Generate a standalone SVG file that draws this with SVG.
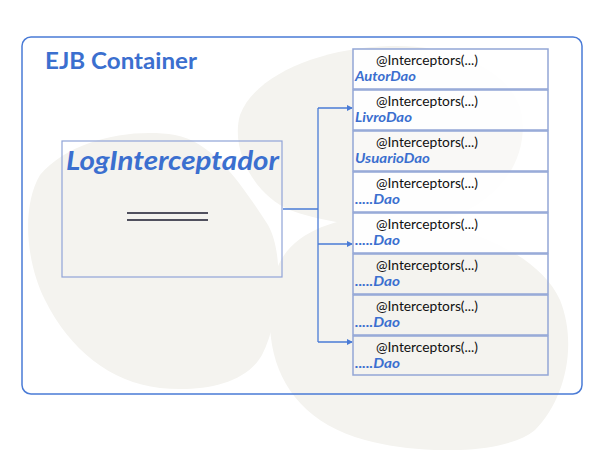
<svg xmlns="http://www.w3.org/2000/svg" width="600" height="450" viewBox="0 0 600 450">
<style>
.blob{fill:#f4f3ef;stroke:none}
.cont{fill:none;stroke:#4a7bd6;stroke-width:1.5}
.title{font-family:"Lato","Liberation Sans",sans-serif;font-weight:bold;font-size:23px;fill:#3b6fcf}
.box{fill:#ffffff;fill-opacity:0;stroke:#93a6d6;stroke-width:1.5}
.w{fill-opacity:0.9}
.h{fill-opacity:0.45}
.ann{font-family:"Lato","Liberation Sans",sans-serif;font-size:14px;fill:#111}
.name{font-family:"Lato","Liberation Sans",sans-serif;font-weight:bold;font-style:italic;font-size:14px;fill:#3b6fcf}
.big{font-family:"Lato","Liberation Sans",sans-serif;font-weight:bold;font-style:italic;font-size:27px;fill:#3b6fcf}
.conn{fill:none;stroke:#4a7bd6;stroke-width:1.3}
</style>
<defs>
<marker id="arr" markerWidth="6" markerHeight="6" refX="5" refY="3" orient="auto" markerUnits="userSpaceOnUse">
<path d="M0,0 L6,3 L0,6 z" fill="#4a7bd6"/>
</marker>
</defs>
<g id="background">
<path class="blob" d="M40,175 C70,140 130,128 175,135 C215,142 245,190 268,225 C285,255 280,320 262,355 C245,385 200,392 160,388 C110,382 70,350 45,300 C25,260 22,205 40,175 z"/>
<path class="blob" d="M240,115 C255,75 320,48 390,46 C460,44 515,75 522,115 C528,160 500,200 450,218 C400,234 330,225 290,210 C255,196 230,150 240,115 z"/>
<path class="blob" d="M275,275 C285,235 335,212 400,218 C470,225 540,255 560,300 C578,345 565,400 535,430 C505,455 420,455 365,440 C310,425 280,390 272,345 C268,320 268,295 275,275 z"/>
</g>
<g id="container">
<rect class="cont" x="22" y="37" width="560" height="357" rx="9" ry="9"/>
<text class="title" x="45" y="69" textLength="152" lengthAdjust="spacingAndGlyphs">EJB Container</text>
</g>
<g id="connectors">
<polyline class="conn" points="283,209 318,209"/>
<polyline class="conn" points="318,108 318,342"/>
<line class="conn" x1="318" y1="108" x2="352" y2="108" marker-end="url(#arr)"/>
<line class="conn" x1="318" y1="244" x2="352" y2="244" marker-end="url(#arr)"/>
<line class="conn" x1="318" y1="342" x2="352" y2="342" marker-end="url(#arr)"/>
</g>
<g id="LogInterceptador">
<rect x="62" y="141" width="220" height="136" fill="none" stroke="#8fa4d8" stroke-width="1.2"/>
<text class="big" x="66" y="170" textLength="213" lengthAdjust="spacingAndGlyphs">LogInterceptador</text>
<line x1="127" y1="213" x2="208" y2="213" stroke="#1a1a2e" stroke-width="1.6"/>
<line x1="127" y1="220" x2="208" y2="220" stroke="#1a1a2e" stroke-width="1.6"/>
</g>
<g id="AutorDao">
<rect class="box w" x="353" y="49" width="195" height="40"/>
<text class="ann" x="376" y="65" textLength="102" lengthAdjust="spacingAndGlyphs">@Interceptors(...)</text>
<text class="name" x="355" y="81" textLength="61" lengthAdjust="spacingAndGlyphs">AutorDao</text>
</g>
<g id="LivroDao">
<rect class="box w" x="353" y="90" width="195" height="40"/>
<text class="ann" x="376" y="106" textLength="102" lengthAdjust="spacingAndGlyphs">@Interceptors(...)</text>
<text class="name" x="355" y="122" textLength="57" lengthAdjust="spacingAndGlyphs">LivroDao</text>
</g>
<g id="UsuarioDao">
<rect class="box h" x="353" y="131" width="195" height="40"/>
<text class="ann" x="376" y="147" textLength="102" lengthAdjust="spacingAndGlyphs">@Interceptors(...)</text>
<text class="name" x="355" y="163" textLength="75" lengthAdjust="spacingAndGlyphs">UsuarioDao</text>
</g>
<g id="Dao4">
<rect class="box w" x="353" y="172" width="195" height="40"/>
<text class="ann" x="376" y="188" textLength="102" lengthAdjust="spacingAndGlyphs">@Interceptors(...)</text>
<text class="name" x="355" y="204" textLength="45" lengthAdjust="spacingAndGlyphs">.....Dao</text>
</g>
<g id="Dao5">
<rect class="box w" x="353" y="213" width="195" height="40"/>
<text class="ann" x="376" y="229" textLength="102" lengthAdjust="spacingAndGlyphs">@Interceptors(...)</text>
<text class="name" x="355" y="245" textLength="45" lengthAdjust="spacingAndGlyphs">.....Dao</text>
</g>
<g id="Dao6">
<rect class="box" x="353" y="254" width="195" height="40"/>
<text class="ann" x="376" y="270" textLength="102" lengthAdjust="spacingAndGlyphs">@Interceptors(...)</text>
<text class="name" x="355" y="286" textLength="45" lengthAdjust="spacingAndGlyphs">.....Dao</text>
</g>
<g id="Dao7">
<rect class="box" x="353" y="295" width="195" height="40"/>
<text class="ann" x="376" y="311" textLength="102" lengthAdjust="spacingAndGlyphs">@Interceptors(...)</text>
<text class="name" x="355" y="327" textLength="45" lengthAdjust="spacingAndGlyphs">.....Dao</text>
</g>
<g id="Dao8">
<rect class="box" x="353" y="336" width="195" height="39"/>
<text class="ann" x="376" y="352" textLength="102" lengthAdjust="spacingAndGlyphs">@Interceptors(...)</text>
<text class="name" x="355" y="368" textLength="45" lengthAdjust="spacingAndGlyphs">.....Dao</text>
</g>
</svg>
